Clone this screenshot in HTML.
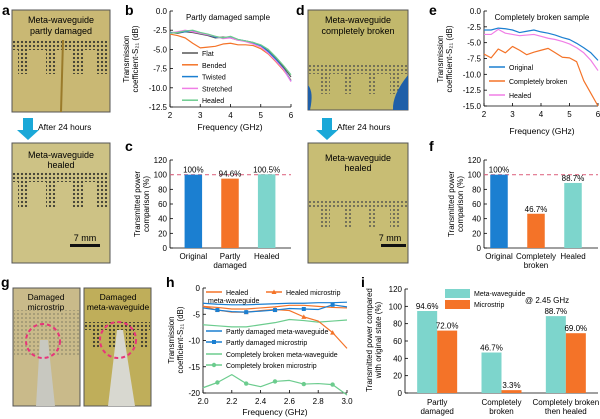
<!DOCTYPE html>
<html><head><meta charset="utf-8"><style>
body{margin:0;background:#fff}
svg{display:block;font-family:"Liberation Sans",sans-serif}
</style></head><body>
<svg id="fig" width="600" height="419" viewBox="0 0 600 419" xmlns="http://www.w3.org/2000/svg">
<defs>
<pattern id="dots" width="4" height="4" patternUnits="userSpaceOnUse"><circle cx="2" cy="2" r="1.1" fill="#3a3a30"/></pattern>
<pattern id="dots2" width="4" height="4" patternUnits="userSpaceOnUse"><circle cx="2" cy="2" r="1" fill="#5a5a50"/></pattern>
</defs>
<g font-weight="bold" font-size="14">
<text x="2" y="15">a</text>
<text x="125" y="15">b</text>
<text x="125" y="151">c</text>
<text x="296" y="15">d</text>
<text x="429" y="15">e</text>
<text x="429" y="151">f</text>
<text x="1" y="287">g</text>
<text x="166" y="287">h</text>
<text x="361" y="287">i</text>
</g>
<g>
<rect x="12" y="10" width="98" height="102" fill="#c9b874" stroke="#555"/>
<rect x="13" y="40" width="96" height="10" fill="url(#dots)"/>
<rect x="18" y="50" width="11" height="24" fill="url(#dots)"/><rect x="46" y="50" width="11" height="24" fill="url(#dots)"/><rect x="72" y="50" width="11" height="24" fill="url(#dots)"/><rect x="97" y="50" width="11" height="24" fill="url(#dots)"/>
<line x1="63" y1="40" x2="61" y2="112" stroke="#9a7a2a" stroke-width="2"/>
<text x="61" y="23" font-size="9" text-anchor="middle">Meta-waveguide</text><text x="61" y="34" font-size="9" text-anchor="middle">partly damaged</text>
</g>
<g><rect x="23" y="118" width="10" height="12" fill="#1aa8d8"/><polygon points="17,130 39,130 28,140" fill="#1aa8d8"/><text x="38" y="130" font-size="8.5">After 24 hours</text></g>
<g>
<rect x="12" y="143" width="98" height="120" fill="#cdc285" stroke="#555"/>
<rect x="13" y="172" width="96" height="10" fill="url(#dots)"/>
<rect x="18" y="182" width="11" height="25" fill="url(#dots)"/><rect x="46" y="182" width="11" height="25" fill="url(#dots)"/><rect x="72" y="182" width="11" height="25" fill="url(#dots)"/><rect x="97" y="182" width="11" height="25" fill="url(#dots)"/>
<text x="61" y="158" font-size="9" text-anchor="middle">Meta-waveguide</text><text x="61" y="168" font-size="9" text-anchor="middle">healed</text>
<text x="85" y="241" font-size="9" text-anchor="middle">7 mm</text><rect x="70" y="244" width="30" height="3" fill="#111"/>
</g>
<g>
<rect x="308" y="10" width="100" height="100" fill="#c2b86c" stroke="#555"/>
<rect x="309" y="64" width="98" height="10" fill="url(#dots2)"/>
<rect x="320" y="74" width="10" height="20" fill="url(#dots2)"/><rect x="343" y="74" width="10" height="20" fill="url(#dots2)"/><rect x="367" y="74" width="10" height="20" fill="url(#dots2)"/><rect x="390" y="74" width="10" height="20" fill="url(#dots2)"/>
<path d="M308 85 Q314 92 310 110 L308 110Z" fill="#1f5fa8"/><path d="M408 75 Q392 95 393 110 L408 110Z" fill="#1f5fa8"/>
<text x="358" y="23" font-size="9" text-anchor="middle">Meta-waveguide</text><text x="358" y="34" font-size="9" text-anchor="middle">completely broken</text>
</g>
<g><rect x="322" y="118" width="10" height="12" fill="#1aa8d8"/><polygon points="316,130 338,130 327,140" fill="#1aa8d8"/><text x="337" y="130" font-size="8.5">After 24 hours</text></g>
<g>
<rect x="308" y="143" width="100" height="120" fill="#c8bd74" stroke="#555"/>
<rect x="309" y="199" width="98" height="9" fill="url(#dots2)"/>
<rect x="320" y="208" width="10" height="20" fill="url(#dots2)"/><rect x="343" y="208" width="10" height="20" fill="url(#dots2)"/><rect x="367" y="208" width="10" height="20" fill="url(#dots2)"/><rect x="390" y="208" width="10" height="20" fill="url(#dots2)"/>
<text x="358" y="161" font-size="9" text-anchor="middle">Meta-waveguide</text><text x="358" y="171" font-size="9" text-anchor="middle">healed</text>
<text x="390" y="241" font-size="9" text-anchor="middle">7 mm</text><rect x="381" y="244" width="25" height="3" fill="#111"/>
</g>
<g>
<rect x="13" y="288" width="67" height="118" fill="#c9ba8a" stroke="#555"/>
<rect x="14" y="310" width="65" height="45" fill="url(#dots2)" opacity="0.4"/>
<polygon points="40,340 48,340 55,406 36,406" fill="#c8c8c0"/>
<circle cx="43" cy="341" r="17" fill="none" stroke="#e8347a" stroke-width="2" stroke-dasharray="4,3"/>
<text x="46" y="300" font-size="8.5" text-anchor="middle">Damaged</text><text x="46" y="310" font-size="8.5" text-anchor="middle">microstrip</text>
</g>
<g>
<rect x="84" y="288" width="67" height="118" fill="#bfae5a" stroke="#555"/>
<rect x="85" y="322" width="65" height="8" fill="url(#dots)"/>
<rect x="92" y="330" width="8" height="18" fill="url(#dots)"/><rect x="107" y="330" width="8" height="18" fill="url(#dots)"/><rect x="126" y="330" width="8" height="18" fill="url(#dots)"/><rect x="141" y="330" width="8" height="18" fill="url(#dots)"/>
<polygon points="117,330 123,330 135,406 108,406" fill="#d8d8d0"/>
<circle cx="118" cy="340" r="18" fill="none" stroke="#e8347a" stroke-width="2" stroke-dasharray="4,3"/>
<text x="118" y="300" font-size="8.5" text-anchor="middle">Damaged</text><text x="118" y="310" font-size="8.5" text-anchor="middle">meta-waveguide</text>
</g>
<g id="charts"></g>
</svg>
<script>
const freqB = [2,2.25,2.5,2.75,3,3.25,3.5,3.75,4,4.25,4.5,4.75,5,5.25,5.5,5.75,6];
const bFlat = [-2.8,-2.9,-2.7,-2.8,-3.0,-3.2,-3.5,-3.4,-3.5,-3.8,-3.9,-4.1,-4.5,-5.2,-6.2,-7.3,-8.6];
const bBended = [-3.0,-3.2,-3.5,-4.2,-4.8,-4.7,-4.6,-4.3,-4.2,-4.4,-4.4,-4.5,-4.9,-5.6,-6.6,-7.7,-9.0];
const bTwisted = [-2.8,-2.8,-2.7,-2.6,-2.9,-3.1,-3.4,-3.5,-3.4,-3.7,-3.9,-4.2,-4.5,-5.3,-6.3,-7.5,-9.1];
const bStretched = [-2.9,-2.7,-2.5,-2.7,-2.9,-3.1,-3.3,-3.6,-3.5,-3.8,-4.0,-4.3,-4.7,-5.5,-6.5,-7.6,-9.2];
const bHealed = [-2.9,-2.8,-2.6,-2.5,-2.8,-3.0,-3.3,-3.5,-3.3,-3.7,-3.9,-4.1,-4.4,-5.0,-6.0,-7.1,-8.3];
const bTicksY = [0,-2.5,-5,-7.5,-10,-12.5];
const freqTicks = [2,3,4,5,6];
const cCats = ["Original","Partly|damaged","Healed"];
const cVals = [100,94.6,100.5];
const cLabels = ["100%","94.6%","100.5%"];
const pctTicks = [0,20,40,60,80,100,120];
const eOriginal = [-3.0,-3.0,-2.7,-2.8,-3.0,-3.4,-3.2,-3.0,-3.3,-3.5,-3.8,-4.2,-4.5,-5.1,-5.8,-6.6,-7.8];
const eBroken = [-6.8,-7.4,-6.0,-6.6,-5.6,-6.2,-6.9,-6.5,-6.2,-5.9,-6.6,-7.3,-7.4,-8.0,-11.0,-13.0,-15.0];
const eHealed = [-3.7,-3.7,-2.9,-3.5,-3.7,-3.9,-3.8,-3.7,-4.0,-4.3,-4.5,-4.8,-5.2,-5.8,-6.6,-7.8,-9.4];
const eTicksY = [0,-2.5,-5,-7.5,-10,-12.5,-15];
const fCats = ["Original","Completely|broken","Healed"];
const fVals = [100,46.7,88.7];
const fLabels = ["100%","46.7%","88.7%"];
const freqH = [2.0,2.1,2.2,2.3,2.4,2.5,2.6,2.7,2.8,2.9,3.0];
const hHealedMeta = [-3.5,-3.7,-4.0,-4.0,-3.8,-3.6,-3.3,-3.3,-3.5,-3.7,-3.8];
const hHealedMicro = [-3.5,-4.2,-4.6,-4.6,-4.3,-4.1,-4.3,-5.5,-6.3,-8.5,-11.5];
const hPartlyMeta = [-2.9,-3.1,-3.2,-3.2,-3.1,-3.0,-2.9,-2.9,-2.8,-2.8,-2.7];
const hPartlyMicro = [-3.8,-4.2,-4.5,-4.6,-4.4,-4.2,-3.9,-4.0,-4.1,-3.2,-3.6];
const hBrokenMeta = [-7.0,-7.2,-7.4,-7.4,-7.0,-6.6,-6.0,-6.2,-6.5,-6.3,-6.1];
const hBrokenMicro = [-19.0,-18.0,-16.5,-18.2,-18.8,-17.8,-17.6,-18.3,-18.2,-18.4,-20.5];
const hTicksY = [0,-5,-10,-15,-20];
const hTicksX = [2.0,2.2,2.4,2.6,2.8,3.0];
const iCats = ["Partly|damaged","Completely|broken","Completely broken|then healed"];
const iMeta = [94.6,46.7,88.7];
const iMicro = [72.0,3.3,69.0];

const BLUE="#1b7fd1",ORANGE="#f47328",TEAL="#7dd5cc",PINK="#f07ee6",GREEN="#6ccc8e",GRAY="#555";
const NS="http://www.w3.org/2000/svg";
const root=document.getElementById('charts');
function mk(tag,attrs,parent,text){const e=document.createElementNS(NS,tag);for(const k in attrs)e.setAttribute(k,attrs[k]);if(text!==undefined)e.textContent=text;(parent||root).appendChild(e);return e;}
function scale(d0,d1,r0,r1){return v=>r0+(v-d0)/(d1-d0)*(r1-r0);}

function axes(g,x0,x1,y0,y1,sy,yt,yfmt,sx,xt,xfmt,fs){
  mk('line',{x1:x0,y1:y0,x2:x0,y2:y1,stroke:'#000','stroke-width':0.8},g);
  mk('line',{x1:x0,y1:y1,x2:x1,y2:y1,stroke:'#000','stroke-width':0.8},g);
  yt.forEach(v=>{const y=sy(v);mk('line',{x1:x0,y1:y,x2:x0+3,y2:y,stroke:'#000','stroke-width':0.8},g);
    const t=mk('text',{x:x0-3,y:y+3,'font-size':fs,'text-anchor':'end'},g,yfmt(v));});
  if(xt){xt.forEach(v=>{const x=sx(v);mk('line',{x1:x,y1:y1,x2:x,y2:y1-3,stroke:'#000','stroke-width':0.8},g);
    const t=mk('text',{x:x,y:y1+11,'font-size':fs,'text-anchor':'middle'},g,xfmt(v));});}
}
function line(g,xs,ys,sx,sy,color,name,w){
  const p=mk('polyline',{points:xs.map((x,i)=>sx(x)+','+sy(ys[i])).join(' '),fill:'none',stroke:color,'stroke-width':w||1.2,'stroke-linejoin':'round'},g);
  
  
  return p;
}
function vtitle(g,x,y,l1,l2,fs){
  const t=mk('text',{transform:`translate(${x},${y}) rotate(-90)`,'font-size':fs,'text-anchor':'middle'},g);
  mk('tspan',{x:0,dy:0},t,l1);mk('tspan',{x:0,dy:fs+1},t,l2);
  
  
}
function legendLine(g,x,y,color,label,fs,marker){
  mk('line',{x1:x,y1:y,x2:x+16,y2:y,stroke:color,'stroke-width':1.5},g);
  if(marker)marker(g,x+8,y,color);
  const t=mk('text',{x:x+20,y:y+3,'font-size':fs},g,label);
  
  
}
function catLabel(g,x,y,s,fs){s.split('|').forEach((l,i)=>{const t=mk('text',{x:x,y:y+i*(fs+1),'font-size':fs,'text-anchor':'middle'},g,l);});}

(function(){
  const g=mk('g',{});
  const x0=170,x1=291,y0=11,y1=107;
  const sx=scale(2,6,x0,x1),sy=scale(0,-12.5,y0,y1);
  axes(g,x0,x1,y0,y1,sy,bTicksY,v=>v.toFixed(1),sx,freqTicks,v=>v,8);
  [[bFlat,GRAY,'Flat'],[bBended,ORANGE,'Bended'],[bTwisted,BLUE,'Twisted'],[bStretched,PINK,'Stretched'],[bHealed,GREEN,'Healed']].forEach((s,i)=>{
    line(g,freqB,s[0],sx,sy,s[1],'line-'+s[2].toLowerCase());
    legendLine(g,182,53+i*11.8,s[1],s[2],7);
  });
  mk('text',{x:228,y:20,'font-size':8,'text-anchor':'middle'},g,'Partly damaged sample');
  mk('text',{x:230,y:130,'font-size':8.5,'text-anchor':'middle'},g,'Frequency (GHz)');
  vtitle(g,129,59,'Transmission','coefficient-S\u2082\u2081 (dB)',8);
})();
function barChart(name,x0,x1,bx0,bx1,y0,y1,cats,vals,labs,colors){
  const g=mk('g',{});
  const sy=scale(0,120,y1,y0);
  axes(g,x0,x1,y0,y1,sy,pctTicks,v=>v,null,null,null,8);
  mk('line',{x1:x0,y1:sy(100),x2:x1,y2:sy(100),stroke:'#e0708a','stroke-width':1.2,'stroke-dasharray':'4,3'},g);
  const step=(bx1-bx0)/cats.length,bw=17.5;
  cats.forEach((c,i)=>{const cx=bx0+step*(i+0.5);
    const r=mk('rect',{x:cx-bw/2,y:sy(vals[i]),width:bw,height:y1-sy(vals[i]),fill:colors[i]},g);
    
    mk('text',{x:cx,y:sy(vals[i])-2,'font-size':8,'text-anchor':'middle'},g,labs[i]);
    catLabel(g,cx,y1+11,c,8);
  });
  vtitle(g,x0-30,y0+44,'Transmitted power','comparison (%)',8);
}
barChart('chart-c',170,291,175,285,160,248,cCats,cVals,cLabels,[BLUE,ORANGE,TEAL]);
barChart('chart-f',484,598,480.5,591.5,160,248,fCats,fVals,fLabels,[BLUE,ORANGE,TEAL]);
(function(){
  const g=mk('g',{});
  const x0=484,x1=598,y0=11,y1=106;
  const sx=scale(2,6,x0,x1),sy=scale(0,-15,y0,y1);
  axes(g,x0,x1,y0,y1,sy,eTicksY,v=>v.toFixed(1),sx,freqTicks,v=>v,8);
  [[eOriginal,BLUE,'Original'],[eBroken,ORANGE,'Completely broken'],[eHealed,PINK,'Healed']].forEach((s,i)=>{
    line(g,freqB,s[0],sx,sy,s[1],'line-'+s[2].toLowerCase().replace(' ','-'));
    legendLine(g,489,67+i*14,s[1],s[2],7);
  });
  mk('text',{x:542,y:20,'font-size':8,'text-anchor':'middle'},g,'Completely broken sample');
  mk('text',{x:542,y:134,'font-size':8.5,'text-anchor':'middle'},g,'Frequency (GHz)');
  vtitle(g,443,59,'Transmission','coefficient-S\u2082\u2081 (dB)',8);
})();
function tri(g,x,y,c){mk('polygon',{points:`${x-2.5},${y+2} ${x+2.5},${y+2} ${x},${y-2.5}`,fill:c},g);}
function sq(g,x,y,c){mk('rect',{x:x-2,y:y-2,width:4,height:4,fill:c},g);}
function dot(g,x,y,c){mk('circle',{cx:x,cy:y,r:2.2,fill:c},g);}
(function(){
  const g=mk('g',{});
  const x0=203,x1=347,y0=288,y1=393;
  const sx=scale(2,3,x0,x1),sy0=scale(0,-20,y0,y1);const sy=v=>Math.min(sy0(v),y1+2);
  axes(g,x0,x1,y0,y1,sy0,hTicksY,v=>v,sx,hTicksX,v=>v.toFixed(1),8);
  const series=[[hPartlyMeta,BLUE,null,'line-partly-meta'],[hHealedMeta,ORANGE,null,'line-healed-meta'],[hBrokenMeta,GREEN,null,'line-broken-meta'],
    [hHealedMicro,ORANGE,tri,'line-healed-micro'],[hPartlyMicro,BLUE,sq,'line-partly-micro'],[hBrokenMicro,GREEN,dot,'line-broken-micro']];
  series.forEach(s=>{line(g,freqH,s[0],sx,sy,s[1],s[3]);if(s[2])freqH.forEach((f,i)=>{if(i%2===1&&s[0][i]>-20)s[2](g,sx(f),sy(s[0][i]),s[1]);});});
  legendLine(g,206,292,ORANGE,'Healed',7);mk('text',{x:208,y:303,'font-size':7},g,'meta-waveguide');
  legendLine(g,266,292,ORANGE,'Healed microstrip',7,tri);
  legendLine(g,206,331,BLUE,'Partly damaged meta-waveguide',7);
  legendLine(g,206,342,BLUE,'Partly damaged microstrip',7,sq);
  legendLine(g,206,354,GREEN,'Completely broken meta-waveguide',7);
  legendLine(g,206,365,GREEN,'Completely broken microstrip',7,dot);
  mk('text',{x:275,y:415,'font-size':8.5,'text-anchor':'middle'},g,'Frequency (GHz)');
  vtitle(g,174,340,'Transmission','coefficient-S\u2082\u2081 (dB)',8);
})();
(function(){
  const g=mk('g',{});
  const x0=405,x1=598,y0=289,y1=393;
  const sy=scale(0,120,y1,y0);
  axes(g,x0,x1,y0,y1,sy,pctTicks,v=>v,null,null,null,8);
  const step=(x1-x0)/iCats.length,bw=20;
  iCats.forEach((c,i)=>{const cx=x0+step*(i+0.5);
    const r1=mk('rect',{x:cx-bw,y:sy(iMeta[i]),width:bw,height:y1-sy(iMeta[i]),fill:TEAL},g);
    
    const r2=mk('rect',{x:cx,y:sy(iMicro[i]),width:bw,height:y1-sy(iMicro[i]),fill:ORANGE},g);
    
    mk('text',{x:cx-bw/2,y:sy(iMeta[i])-2,'font-size':8,'text-anchor':'middle'},g,iMeta[i].toFixed(1)+'%');
    mk('text',{x:cx+bw/2,y:sy(iMicro[i])-2,'font-size':8,'text-anchor':'middle'},g,iMicro[i].toFixed(1)+'%');
    catLabel(g,cx,y1+12,c,8);
  });
  mk('rect',{x:445,y:289,width:25,height:9,fill:TEAL},g);mk('text',{x:474,y:296,'font-size':7},g,'Meta-waveguide');
  mk('rect',{x:445,y:300,width:25,height:9,fill:ORANGE},g);mk('text',{x:474,y:307,'font-size':7},g,'Microstrip');
  mk('text',{x:525,y:303,'font-size':8},g,'@ 2.45 GHz');
  vtitle(g,372,340,'Transmitted power compared','with original state (%)',8);
})();
</script>
</body></html>
